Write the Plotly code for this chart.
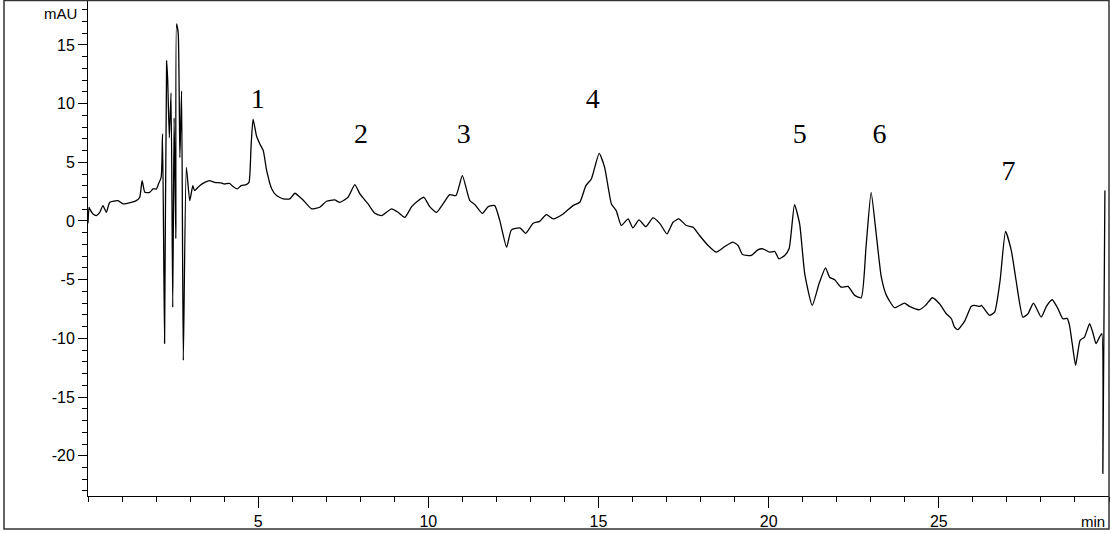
import plotly.graph_objects as go

# Chromatogram trace (time in min, signal in mAU)
time_min = [0.00, 0.03, 0.05, 0.147, 0.244, 0.344, 0.44, 0.54, 0.64, 0.88, 1.03, 1.27, 1.42, 1.52, 1.59, 1.67,
            1.81, 1.91, 2.01, 2.07, 2.15, 2.19, 2.25, 2.31, 2.34, 2.39, 2.44, 2.49, 2.53, 2.58, 2.60, 2.65,
            2.70, 2.75, 2.80, 2.89, 2.99, 3.08, 3.13, 3.28, 3.43, 3.57, 3.72, 3.91, 4.01, 4.16, 4.26, 4.38,
            4.50, 4.65, 4.73, 4.79, 4.85, 4.95, 5.05, 5.15, 5.25, 5.40, 5.54, 5.74, 5.93, 6.08, 6.23, 6.32,
            6.57, 6.81, 7.01, 7.25, 7.40, 7.64, 7.84, 7.99, 8.23, 8.43, 8.63, 8.92, 9.11, 9.31, 9.51, 9.70,
            9.87, 10.04, 10.24, 10.43, 10.63, 10.81, 11.00, 11.22, 11.37, 11.59, 11.76, 11.95, 12.10, 12.30,
            12.44, 12.69, 12.86, 13.08, 13.27, 13.47, 13.67, 13.96, 14.25, 14.45, 14.63, 14.79, 15.02, 15.18,
            15.38, 15.52, 15.67, 15.87, 16.01, 16.19, 16.39, 16.60, 16.80, 17.01, 17.19, 17.36, 17.58, 17.78,
            17.97, 18.22, 18.46, 18.71, 18.95, 19.10, 19.23, 19.49, 19.68, 19.83, 20.03, 20.18, 20.30, 20.47,
            20.60, 20.76, 20.91, 21.06, 21.28, 21.48, 21.67, 21.79, 21.94, 22.13, 22.33, 22.53, 22.72, 22.86,
            23.01, 23.16, 23.31, 23.46, 23.70, 23.99, 24.14, 24.43, 24.61, 24.81, 25.02, 25.22, 25.37, 25.46,
            25.56, 25.76, 25.95, 26.05, 26.20, 26.25, 26.49, 26.64, 26.80, 26.96, 27.13, 27.27, 27.47, 27.62,
            27.78, 28.01, 28.16, 28.33, 28.50, 28.64, 28.77, 28.84, 28.92, 29.02, 29.15, 29.28, 29.43, 29.52,
            29.62, 29.72, 29.79, 29.82, 29.88]
signal_mau = [-0.20, 1.15, 1.03, 0.60, 0.46, 0.74, 1.31, 0.74, 1.59, 1.73, 1.45, 1.59, 1.73, 2.02, 3.44, 2.44,
              2.44, 2.73, 2.73, 3.15, 3.72, 7.43, -10.43, 13.64, 12.11, 7.09, 10.92, -7.36, 8.79, -1.50, 16.79, 16.02,
              5.39, 11.09, -11.87, 4.57, 1.73, 3.01, 2.59, 3.01, 3.29, 3.44, 3.29, 3.24, 3.15, 3.21, 2.93, 2.73,
              3.01, 3.10, 3.29, 6.27, 8.68, 7.26, 6.56, 5.99, 4.29, 2.73, 2.16, 1.88, 1.88, 2.36, 2.02, 1.79,
              1.03, 1.17, 1.68, 1.79, 1.59, 2.02, 3.10, 2.30, 1.45, 0.65, 0.46, 1.03, 0.74, 0.31, 1.22, 1.73,
              2.02, 1.22, 0.74, 1.45, 2.24, 2.16, 3.86, 1.73, 1.39, 0.65, 1.22, 1.31, 0.03, -2.24,
              -0.76, -0.59, -1.05, -0.20, -0.03, 0.54, 0.18, 0.60, 1.31, 1.59, 3.01, 3.58, 5.76, 4.57,
              1.45, 0.88, -0.39, 0.18, -0.59, 0.09, -0.48, 0.26, -0.20, -1.10, -0.11, 0.18, -0.39, -0.54,
              -1.24, -2.09, -2.66, -2.18, -1.81, -2.09, -2.86, -2.94, -2.46, -2.37, -2.66, -2.60, -3.22, -2.94,
              -2.37, 1.39, -0.25, -4.50, -7.19, -5.35, -3.99, -4.79, -5.01, -5.64, -5.58, -6.34, -6.54, -2.24,
              2.44, -1.10, -4.79, -6.34, -7.39, -7.00, -7.28, -7.56, -7.19, -6.54, -7.05, -7.90, -8.33, -9.04,
              -9.26, -8.53, -7.28, -7.19, -7.28, -7.19, -8.04, -7.76, -5.07, -0.88, -2.52, -5.07, -8.19, -7.90,
              -7.00, -8.19, -7.28, -6.71, -7.47, -8.33, -8.30, -8.90, -10.45, -12.30, -10.17, -9.89, -8.75, -9.46,
              -10.45, -9.89, -9.60, -21.51, 2.60]

# Peak annotations
peak_labels = ["1", "2", "3", "4", "5", "6", "7"]
label_time = [4.99, 8.02, 11.04, 14.83, 20.91, 23.26, 27.05]
label_mau = [10.24, 7.25, 7.25, 10.24, 7.25, 7.25, 4.12]

# Axis ticks
x_tick_vals = [5, 10, 15, 20, 25]
x_tick_text = ["5", "10", "15", "20", "25"]
y_tick_vals = [15, 10, 5, 0, -5, -10, -15, -20]
y_tick_text = ["15", "10", "5", "0", "-5", "-10", "-15", "-20"]

W, H = 1111, 534
ML, MR, MT, MB = 88, 2, 1, 38
pw = W - ML - MR
ph = H - MT - MB

fig = go.Figure()
fig.add_trace(go.Scatter(x=time_min, y=signal_mau, mode="lines",
                         line=dict(color="black", width=1.3, shape="spline", smoothing=0.5),
                         hoverinfo="skip"))
fig.add_trace(go.Scatter(x=label_time, y=label_mau, mode="text", text=peak_labels,
                         textfont=dict(family="Liberation Serif, Times New Roman, serif", size=28, color="black"),
                         hoverinfo="skip"))

tickfont = dict(family="Liberation Sans, Arial, sans-serif", size=16, color="black")

fig.update_layout(
    width=W, height=H,
    margin=dict(l=ML, r=MR, t=MT, b=MB),
    paper_bgcolor="white", plot_bgcolor="white",
    showlegend=False,
    xaxis=dict(range=[0, 30], showline=True, linecolor="black", linewidth=1,
               ticks="outside", ticklen=11, tickcolor="black", tickwidth=1,
               tickvals=x_tick_vals, ticktext=x_tick_text, tickfont=tickfont,
               minor=dict(dtick=1, tick0=0, ticks="outside", ticklen=5, tickcolor="black", tickwidth=1),
               showgrid=False, zeroline=False),
    yaxis=dict(range=[-23.43, 18.74], showline=True, linecolor="black", linewidth=1,
               ticks="outside", ticklen=9, tickcolor="black", tickwidth=1,
               tickvals=y_tick_vals, ticktext=y_tick_text, tickfont=tickfont,
               minor=dict(dtick=1, tick0=0, ticks="outside", ticklen=5, tickcolor="black", tickwidth=1),
               showgrid=False, zeroline=False),
    shapes=[dict(type="rect", xref="paper", yref="paper",
                 x0=(4 - ML) / pw, x1=(1109 - ML) / pw,
                 y0=(ph + MT - 529) / ph, y1=(ph + MT - 0.5) / ph,
                 line=dict(color="#333333", width=1.5), fillcolor="rgba(0,0,0,0)")],
    annotations=[
        dict(text="mAU", xref="paper", yref="paper", x=(79 - ML) / pw, y=(ph + MT - 13) / ph,
             xanchor="right", yanchor="middle", showarrow=False,
             font=dict(family="Liberation Sans, Arial, sans-serif", size=15, color="black")),
        dict(text="min", xref="paper", yref="paper", x=(1107 - ML) / pw, y=(ph + MT - 521) / ph,
             xanchor="right", yanchor="middle", showarrow=False,
             font=dict(family="Liberation Sans, Arial, sans-serif", size=15, color="black")),
    ],
)

fig.write_html("out.html", config={"displayModeBar": False},
               post_script="document.body.style.margin='0px';document.body.style.overflow='hidden';")
